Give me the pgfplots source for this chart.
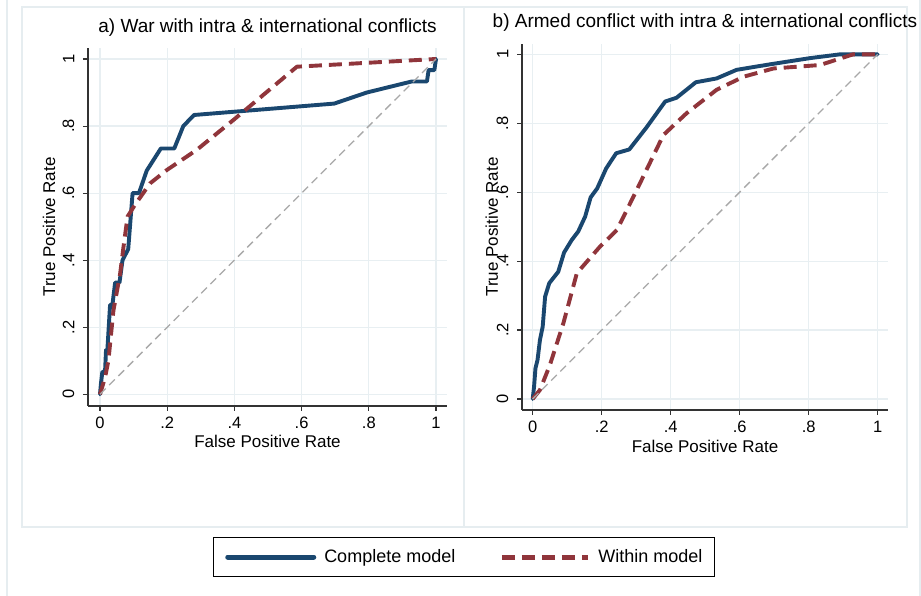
\documentclass[border=0pt]{standalone}
\usepackage{pgfplots}
\pgfplotsset{compat=1.18}
\usepackage{fontspec}
\setmainfont{Liberation Sans}
\definecolor{navy}{RGB}{26,71,111}
\definecolor{maroon}{RGB}{144,53,59}
\definecolor{gridc}{RGB}{232,239,242}
\definecolor{boxc}{RGB}{230,237,240}
\definecolor{diagc}{RGB}{168,168,168}
\pgfplotsset{
  rocaxis/.style={
    scale only axis,
    axis x line*=bottom, axis y line*=left,
    tick pos=left,
    axis line style={line width=1.1pt, color=black!80, -},
    tick style={line width=1.1pt, color=black!80},
    tick align=outside, major tick length=5pt,
    xtick={0,0.2,0.4,0.6,0.8,1}, ytick={0,0.2,0.4,0.6,0.8,1},
    xticklabels={0,.2,.4,.6,.8,1}, yticklabels={0,.2,.4,.6,.8,1},
    /pgf/number format/assume math mode=true,
    grid=major, major grid style={color=gridc, line width=1.2pt},
    tick label style={font=\fontsize{16.5}{18}\selectfont},
    xticklabel style={anchor=north, inner xsep=0pt, inner ysep=6pt},
    yticklabel style={rotate=90, anchor=south, inner xsep=0pt, inner ysep=8.5pt},
    label style={font=\fontsize{17}{19}\selectfont},
    title style={font=\fontsize{19}{21}\selectfont, anchor=base},
    xlabel={False Positive Rate}, ylabel={True Positive Rate},
  },
  compl/.style={navy, line width=3.9pt, line join=round, line cap=round},
  withn/.style={maroon, line width=3.9pt, line join=round, dash pattern=on 13pt off 7pt},
  diag/.style={diagc, line width=1.3pt, dash pattern=on 8pt off 5pt},
}
\begin{document}
\begin{tikzpicture}[x=1pt,y=1pt]
\useasboundingbox (0,0) rectangle (921,596);
\fill[white] (0,0) rectangle (921,596);
\draw[boxc, line width=1.2pt] (7,-5) rectangle (920,601);
\draw[boxc, line width=1.5pt] (22,69) rectangle (464,589);
\draw[boxc, line width=1.5pt] (464,69) rectangle (907,589);

\begin{axis}[rocaxis,
  at={(88pt,190pt)}, anchor=south west,
  width=359pt, height=358pt,
  xmin=-0.0357, xmax=1.0327, ymin=-0.0349, ymax=1.0328,
  title={a) War with intra \& international conflicts},
  title style={at={(axis description cs:0.5,1)}, yshift=9pt},
  xlabel style={at={(axis description cs:0.5,-0.0978)}, anchor=center},
  ylabel style={at={(axis description cs:-0.1086,0.5)}, anchor=center},
  legend columns=2,
  legend image code/.code={\draw[#1, line width=5pt] (0pt,0pt) -- (86pt,0pt);},
  legend style={at={(axis description cs:1.0468,-0.422)}, anchor=center,
    draw=black, line width=1.3pt, fill=white, inner xsep=12pt, inner ysep=12pt,
    font=\fontsize{18}{20}\selectfont, nodes={inner sep=0pt, anchor=west},
    /tikz/every odd column/.append style={column sep=8pt},
    /tikz/every even column/.append style={column sep=44pt}},
]
\addplot[compl] coordinates {
(0,0) (0.003,0.033) (0.007,0.067) (0.015,0.067) (0.018,0.133) (0.022,0.133)
(0.030,0.267) (0.037,0.267) (0.045,0.333) (0.058,0.333) (0.067,0.400)
(0.084,0.433) (0.097,0.600) (0.116,0.600) (0.139,0.667) (0.181,0.733)
(0.221,0.733) (0.248,0.800) (0.280,0.833) (0.697,0.867) (0.794,0.900)
(0.928,0.933) (0.973,0.933) (0.978,0.967) (0.995,0.967) (1,1)};
\addlegendentry{Complete model}
\addplot[withn] coordinates {
(0,0) (0.015,0.05) (0.025,0.10) (0.04,0.25) (0.06,0.36) (0.07,0.44)
(0.082,0.53) (0.104,0.565) (0.149,0.629) (0.199,0.669) (0.288,0.729)
(0.397,0.818) (0.586,0.977) (1,1)};
\addlegendentry{Within model}
\addplot[diag, forget plot] coordinates {(0,0) (1,1)};
\end{axis}

\begin{axis}[rocaxis,
  at={(522pt,186pt)}, anchor=south west,
  width=366pt, height=366pt,
  xmin=-0.031, xmax=1.030, ymin=-0.032, ymax=1.030,
  title={b) Armed conflict with intra \& international conflicts},
  title style={at={(axis description cs:0.5,1)}, yshift=10pt},
  xlabel style={at={(axis description cs:0.5,-0.1003)}, anchor=center},
  ylabel style={at={(axis description cs:-0.0828,0.5)}, anchor=center},
]
\addplot[compl] coordinates {
(0,0) (0.004,0.036) (0.008,0.089) (0.014,0.113) (0.021,0.171) (0.029,0.21)
(0.036,0.297) (0.048,0.336) (0.074,0.369) (0.091,0.425) (0.113,0.461)
(0.132,0.486) (0.152,0.529) (0.168,0.585) (0.187,0.611) (0.213,0.669)
(0.242,0.713) (0.280,0.724) (0.330,0.788) (0.384,0.863) (0.417,0.874)
(0.473,0.919) (0.533,0.930) (0.591,0.955) (0.688,0.971) (0.804,0.989)
(0.891,1.0) (1,1)};
\addplot[withn] coordinates {
(0,0) (0.021,0.026) (0.05,0.099) (0.089,0.22) (0.128,0.365) (0.195,0.442)
(0.244,0.49) (0.297,0.597) (0.379,0.766) (0.446,0.829) (0.533,0.897)
(0.611,0.935) (0.698,0.959) (0.833,0.969) (0.929,1.0) (1,1)};
\addplot[diag] coordinates {(0,0) (1,1)};
\end{axis}
\end{tikzpicture}
\end{document}
